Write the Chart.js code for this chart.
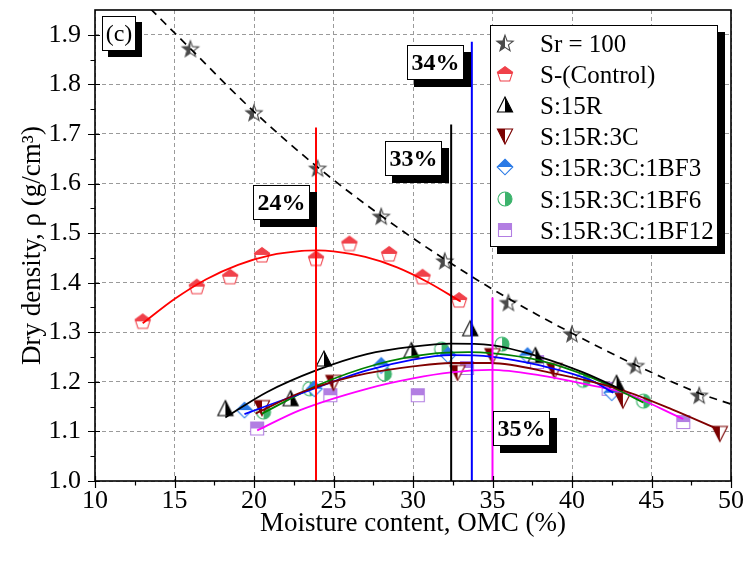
<!DOCTYPE html>
<html><head><meta charset="utf-8">
<script src="https://cdn.jsdelivr.net/npm/chart.js@4/dist/chart.umd.min.js"></script>
<style>
html,body{margin:0;padding:0;background:#fff;}
#wrap{position:relative;width:745px;height:562px;overflow:hidden;}
#c{position:absolute;left:0;top:0;}
.box{position:absolute;box-sizing:border-box;background:#fff;border:1px solid #000;box-shadow:7px 7px 0 #000;font-family:"Liberation Serif","Times New Roman",serif;color:#000;white-space:nowrap;}
.ann{font-weight:bold;font-size:24px;width:57px;height:35px;line-height:33px;text-align:center;}
.row{position:absolute;left:0;height:31px;line-height:31px;font-size:25px;}
.row canvas{position:absolute;left:3px;top:4px;}
.row span{position:absolute;left:49px;top:0;}
</style></head><body>
<div id="wrap"><canvas id="c" width="745" height="562"></canvas></div>
<script>
// ---------- data ----------
const legendNames = ['Sr = 100','S-(Control)','S:15R','S:15R:3C','S:15R:3C:1BF3','S:15R:3C:1BF6','S:15R:3C:1BF12'];

const srX = [16,20,24,28,32,36,40,44,48];
const srY = [1.872,1.743,1.631,1.534,1.444,1.360,1.297,1.233,1.173];

const ctrlX = [13.0,16.4,18.5,20.5,23.9,26.0,28.5,30.6,32.9];
const ctrlY = [1.322,1.392,1.412,1.456,1.449,1.479,1.458,1.412,1.365];

const r15X = [18.2,22.3,24.4,29.9,33.6,37.7,42.8];
const r15Y = [1.146,1.166,1.246,1.263,1.307,1.253,1.197];

const c3X = [20.5,25.0,32.8,35.0,38.9,43.2,49.3];
const c3Y = [1.148,1.199,1.219,1.253,1.223,1.163,1.096];

const bf3X = [19.4,23.8,28.0,32.2,37.2,42.5];
const bf3Y = [1.143,1.186,1.233,1.254,1.253,1.178];

const bf6X = [20.6,23.5,28.2,31.8,35.6,40.7,44.5];
const bf6Y = [1.139,1.186,1.216,1.266,1.276,1.203,1.161];

const bf12X = [20.2,24.8,30.3,33.4,37.8,42.3,47.0];
const bf12Y = [1.106,1.173,1.173,1.228,1.240,1.186,1.119];

// fitted curves
const fitSrX = [13.5,16,20,24,28,32,36,40,44,48,50];
const fitSrY = [1.952,1.872,1.745,1.633,1.535,1.447,1.368,1.298,1.234,1.177,1.155];
const fitCtrlX = [13,15,17,19,21,23,24,25,27,29,31,33];
const fitCtrlY = [1.318,1.367,1.407,1.436,1.455,1.464,1.465,1.463,1.452,1.431,1.400,1.362];
const fitR15X = [18.2,20.8,23.9,27.1,30.0,32.4,34.9,38.0,40.7,43.2];
const fitR15Y = [1.128,1.179,1.223,1.256,1.271,1.277,1.274,1.250,1.219,1.183];
const fitC3X = [20.1,22.9,25.4,27.1,30.0,32.4,34.9,38.7,43.2,46.4,49.2];
const fitC3Y = [1.136,1.178,1.204,1.217,1.231,1.238,1.238,1.218,1.183,1.143,1.104];
const fitBf3X = [19.4,22.9,27.1,30.0,32.4,34.9,38.0,41.2,42.6];
const fitBf3Y = [1.135,1.176,1.223,1.245,1.254,1.251,1.233,1.203,1.178];
const fitBf6X = [20.5,24.0,27.8,31.0,33.5,34.9,38.0,41.2,43.2,44.5];
const fitBf6Y = [1.136,1.193,1.236,1.256,1.260,1.258,1.243,1.209,1.179,1.158];
const fitBf12X = [20.2,22.9,27.1,30.0,32.4,34.9,38.0,41.2,43.2,47.0];
const fitBf12Y = [1.102,1.143,1.186,1.207,1.219,1.224,1.213,1.193,1.179,1.125];

// optimum moisture content markers
const omcX = [23.9,32.4,33.7,35.0];
const omcTop = [1.713,1.719,1.886,1.370];
const omcLabels = ['24%','33%','34%','35%'];
const omcLabelX = [19.93,28.27,29.63,35.04];
const omcLabelY = [1.598,1.686,1.879,1.141];

const xTickValues = [10,15,20,25,30,35,40,45,50];
const yTickValues = [1.0,1.1,1.2,1.3,1.4,1.5,1.6,1.7,1.8,1.9];
const xMinorValues = [12.5,17.5,22.5,27.5,32.5,37.5,42.5,47.5];
const yMinorValues = [1.05,1.15,1.25,1.35,1.45,1.55,1.65,1.75,1.85];

// ---------- styles ----------
const FONT = '"Liberation Serif","Times New Roman",serif';
const markerSpec = [
  {kind:'star', color:'#4a4a4a'},
  {kind:'pentagon', color:'#f0414a'},
  {kind:'triUp', color:'#000000'},
  {kind:'triDown', color:'#7a0000'},
  {kind:'diamond', color:'#2a7ae6'},
  {kind:'circle', color:'#3cb36c'},
  {kind:'square', color:'#b27ee2'}
];
const lineColors = ['#000000','#ff0000','#000000','#800000','#0000ff','#008000','#ff00ff'];
const omcColors = ['#ff0000','#000000','#0000ff','#ff00ff'];

function makeMarker(kind, color){
  const S = 22, c = document.createElement('canvas');
  c.width = S; c.height = S;
  const g = c.getContext('2d');
  g.translate(S/2, S/2);
  const p = new Path2D();
  let half = 'top';
  const poly = pts => { p.moveTo(pts[0][0],pts[0][1]); for (let i=1;i<pts.length;i++) p.lineTo(pts[i][0],pts[i][1]); p.closePath(); };
  if (kind==='star'){
    const a=[]; for(let i=0;i<10;i++){const ang=-Math.PI/2+i*Math.PI/5; const r=i%2?3.6:8.6; a.push([r*Math.cos(ang), r*Math.sin(ang)+0.8]);} poly(a); half='left';
  } else if (kind==='pentagon'){
    const a=[]; for(let i=0;i<5;i++){const ang=-Math.PI/2+i*2*Math.PI/5; a.push([8*Math.cos(ang), 8*Math.sin(ang)+0.6]);} poly(a); half='top';
  } else if (kind==='triUp'){ poly([[0,-8],[7.6,7],[-7.6,7]]); half='right'; }
  else if (kind==='triDown'){ poly([[-7.6,-7],[7.6,-7],[0,8]]); half='left'; }
  else if (kind==='diamond'){ poly([[0,-7.8],[7.8,0],[0,7.8],[-7.8,0]]); half='top'; }
  else if (kind==='circle'){ p.arc(0,0,7,0,Math.PI*2); half='right'; }
  else if (kind==='square'){ p.rect(-6.5,-6.5,13,13); half='top'; }
  g.fillStyle='#fff'; g.fill(p);
  g.save(); g.clip(p); g.fillStyle=color;
  if (half==='top') g.fillRect(-11,-11,22,11);
  else if (half==='left') g.fillRect(-11,-11,11,22);
  else if (half==='right') g.fillRect(0,-11,11,22);
  g.restore();
  g.strokeStyle=color; g.lineWidth=1.1; g.lineJoin='miter'; g.stroke(p);
  return c;
}

const pts = (xs, ys) => xs.map((x,i)=>({x, y: ys[i]}));
const seriesX = [srX,ctrlX,r15X,c3X,bf3X,bf6X,bf12X];
const seriesY = [srY,ctrlY,r15Y,c3Y,bf3Y,bf6Y,bf12Y];
const fitX = [fitSrX,fitCtrlX,fitR15X,fitC3X,fitBf3X,fitBf6X,fitBf12X];
const fitY = [fitSrY,fitCtrlY,fitR15Y,fitC3Y,fitBf3Y,fitBf6Y,fitBf12Y];

const datasets = [];
omcX.forEach((x,i)=>{
  datasets.push({type:'line', data:[{x, y:1.0},{x, y:omcTop[i]}], borderColor:omcColors[i], borderWidth:2, pointRadius:0, order:0});
});
fitX.forEach((xs,i)=>{
  datasets.push({type:'line', data:pts(xs, fitY[i]), borderColor:lineColors[i], borderWidth:i===0?1.7:1.8,
    borderDash:i===0?[8,6]:[], pointRadius:0, cubicInterpolationMode:'monotone', order:1});
});
seriesX.forEach((xs,i)=>{
  datasets.push({type:'scatter', label:legendNames[i], data:pts(xs, seriesY[i]), showLine:false,
    pointStyle:makeMarker(markerSpec[i].kind, markerSpec[i].color), pointRadius:8, order:2});
});

const framePlugin = {
  id:'frame',
  afterDraw(chart){
    const {ctx, chartArea:a, scales:{x,y}} = chart;
    ctx.save();
    ctx.setLineDash([]);
    ctx.strokeStyle='#000';
    ctx.lineWidth=1.2;
    ctx.beginPath();
    xTickValues.forEach(v=>{const p=Math.round(x.getPixelForValue(v))+0.5; ctx.moveTo(p,a.bottom-5); ctx.lineTo(p,a.bottom+7);});
    xMinorValues.forEach(v=>{const p=Math.round(x.getPixelForValue(v))+0.5; ctx.moveTo(p,a.bottom); ctx.lineTo(p,a.bottom+4.5);});
    yTickValues.forEach(v=>{const p=Math.round(y.getPixelForValue(v))+0.5; ctx.moveTo(a.left-7,p); ctx.lineTo(a.left+5,p);});
    yMinorValues.forEach(v=>{const p=Math.round(y.getPixelForValue(v))+0.5; ctx.moveTo(a.left-4.5,p); ctx.lineTo(a.left,p);});
    ctx.stroke();
    ctx.lineWidth=1.6;
    ctx.strokeRect(a.left,a.top,a.right-a.left,a.bottom-a.top);
    ctx.restore();
  }
};

const chart = new Chart(document.getElementById('c'), {
  data:{datasets},
  options:{
    responsive:false, animation:false, devicePixelRatio:1,
    layout:{padding:{top:10,right:14,left:0,bottom:0}},
    plugins:{legend:{display:false}, tooltip:{enabled:false}},
    scales:{
      x:{type:'linear', position:'bottom', min:10, max:50,
        afterFit:s=>{s.height=81; s.paddingLeft=0; s.paddingRight=0;},
        afterBuildTicks:s=>{s.ticks=xTickValues.map(v=>({value:v}));},
        ticks:{font:{family:FONT,size:26}, color:'#000', padding:5, maxRotation:0, callback:v=>String(v)},
        grid:{color:'#9a9a9a', lineWidth:1, drawTicks:false},
        border:{display:false, dash:[4,3]},
        title:{display:true, text:'Moisture content, OMC (%)', font:{family:FONT,size:27}, color:'#000', padding:{top:0,bottom:22}}
      },
      y:{type:'linear', position:'left', min:1.0, max:1.95,
        afterFit:s=>{s.width=95; s.paddingTop=0; s.paddingBottom=0;},
        afterBuildTicks:s=>{s.ticks=yTickValues.map(v=>({value:v}));},
        ticks:{font:{family:FONT,size:26}, color:'#000', padding:14, callback:v=>Number(v).toFixed(1)},
        grid:{color:'#9a9a9a', lineWidth:1, drawTicks:false},
        border:{display:false, dash:[4,3]},
        title:{display:true, text:'Dry density, ρ (g/cm³)', font:{family:FONT,size:27}, color:'#000', padding:{top:17,bottom:0}}
      }
    }
  },
  plugins:[framePlugin]
});

// ---------- overlays: panel label, OMC labels, legend ----------
const wrap = document.getElementById('wrap');
const sx = chart.scales.x, sy = chart.scales.y;

const panel = document.createElement('div');
panel.className='box';
Object.assign(panel.style,{left:'102px',top:'16px',width:'34px',height:'35px',lineHeight:'33px',fontSize:'24px',textAlign:'center',boxShadow:'6px 6px 0 #000'});
panel.textContent='(c)';
wrap.appendChild(panel);

omcLabels.forEach((t,i)=>{
  const d=document.createElement('div');
  d.className='box ann';
  d.style.left=Math.round(sx.getPixelForValue(omcLabelX[i]))+'px';
  d.style.top=Math.round(sy.getPixelForValue(omcLabelY[i]))+'px';
  d.textContent=t;
  wrap.appendChild(d);
});

const leg=document.createElement('div');
leg.className='box';
Object.assign(leg.style,{left:'490px',top:'25px',width:'228px',height:'222px'});
legendNames.forEach((name,i)=>{
  const r=document.createElement('div');
  r.className='row';
  r.style.top=(2+i*31.1)+'px';
  r.style.width='226px';
  const m=makeMarker(markerSpec[i].kind, markerSpec[i].color);
  r.appendChild(m);
  const s=document.createElement('span');
  s.textContent=name;
  r.appendChild(s);
  leg.appendChild(r);
});
wrap.appendChild(leg);
</script>
</body></html>
